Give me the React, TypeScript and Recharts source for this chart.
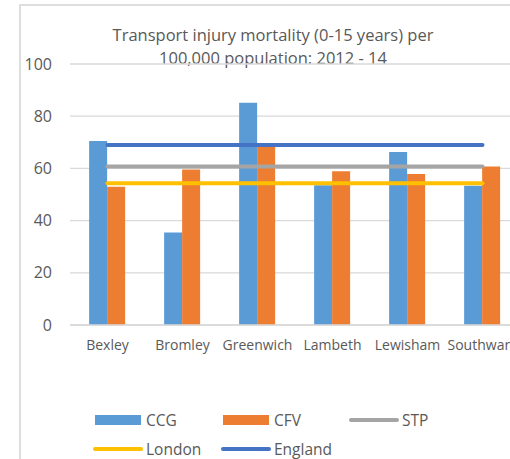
import { Bar, CartesianGrid, ComposedChart, Line, XAxis, YAxis } from "recharts";

const categories = ["Bexley", "Bromley", "Greenwich", "Lambeth", "Lewisham", "Southwark"];
const ccg = [70.5, 35.4, 85.2, 53.5, 66.3, 53.4];
const cfv = [53.0, 59.6, 68.3, 58.9, 57.9, 60.7];
const stp = [60.7, 60.7, 60.7, 60.7, 60.7, 60.7];
const london = [54.3, 54.3, 54.3, 54.3, 54.3, 54.3];
const england = [69.0, 69.0, 69.0, 69.0, 69.0, 69.0];
const yTicks = [0, 20, 40, 60, 80, 100];

const series = [
  { key: "ccg", name: "CCG", color: "#5B9BD5", kind: "bar" },
  { key: "cfv", name: "CFV", color: "#ED7D31", kind: "bar" },
  { key: "stp", name: "STP", color: "#A5A5A5", kind: "line" },
  { key: "london", name: "London", color: "#FFC000", kind: "line" },
  { key: "england", name: "England", color: "#4472C4", kind: "line" },
];

const TEXT = "#595959";
const GRID = "#D9D9D9";
const FONT = "'Open Sans', sans-serif";

const data = categories.map((name, i) => ({
  name,
  ccg: ccg[i],
  cfv: cfv[i],
  stp: stp[i],
  london: london[i],
  england: england[i],
}));

function LegendBox() {
  return (
    <div
      style={{
        position: "absolute",
        left: 93,
        top: 405,
        width: 400,
        display: "flex",
        flexWrap: "wrap",
        fontFamily: FONT,
        fontSize: 15.5,
        color: TEXT,
      }}
    >
      {series.map((s) => (
        <div key={s.key} style={{ width: 128, height: 29, display: "flex", alignItems: "center" }}>
          {s.kind === "bar" ? (
            <span style={{ width: 46, height: 10, marginLeft: 2, marginRight: 5, background: s.color }} />
          ) : (
            <span
              style={{ width: 50, height: 4, marginRight: 3, borderRadius: 2, background: s.color }}
            />
          )}
          <span>{s.name}</span>
        </div>
      ))}
    </div>
  );
}

export default function App() {
  return (
    <div
      style={{
        position: "fixed",
        left: 0,
        top: 0,
        width: 510,
        height: 459,
        overflow: "hidden",
        background: "#fff",
      }}
    >
      <div
        style={{
          position: "absolute",
          left: 19,
          top: 4,
          width: 520,
          height: 480,
          border: "2px solid #DEDEDE",
          boxSizing: "border-box",
        }}
      />
      <div
        style={{
          position: "absolute",
          left: 19,
          top: 23,
          width: 508,
          textAlign: "center",
          fontFamily: FONT,
          fontSize: 16.5,
          lineHeight: "23px",
          color: TEXT,
        }}
      >
        Transport injury mortality (0-15 years) per
        <br />
        100,000 population: 2012 - 14
      </div>
      <div style={{ position: "absolute", left: 0, top: 0 }}>
        <ComposedChart
          width={540}
          height={459}
          data={data}
          margin={{ top: 64, right: 20, bottom: 104, left: 30 }}
          barCategoryGap="25.5%"
          barGap={0}
          style={{ fontFamily: FONT }}
        >
          <CartesianGrid vertical={false} stroke={GRID} strokeWidth={1.3} />
          <XAxis
            dataKey="name"
            height={30}
            axisLine={{ stroke: GRID, strokeWidth: 1.3 }}
            tickLine={false}
            tickSize={0}
            tickMargin={15}
            interval={0}
            tick={{ fill: TEXT, fontSize: 14 }}
          />
          <YAxis
            width={40}
            domain={[0, 100]}
            ticks={yTicks}
            axisLine={false}
            tickLine={false}
            tickSize={0}
            tickMargin={18}
            tick={{ fill: TEXT, fontSize: 16 }}
          />
          <Bar dataKey="ccg" name="CCG" fill="#5B9BD5" isAnimationActive={false} />
          <Bar dataKey="cfv" name="CFV" fill="#ED7D31" isAnimationActive={false} />
          <Line
            dataKey="stp"
            name="STP"
            stroke="#A5A5A5"
            strokeWidth={4}
            strokeLinecap="round"
            dot={false}
            activeDot={false}
            isAnimationActive={false}
          />
          <Line
            dataKey="london"
            name="London"
            stroke="#FFC000"
            strokeWidth={4}
            strokeLinecap="round"
            dot={false}
            activeDot={false}
            isAnimationActive={false}
          />
          <Line
            dataKey="england"
            name="England"
            stroke="#4472C4"
            strokeWidth={4}
            strokeLinecap="round"
            dot={false}
            activeDot={false}
            isAnimationActive={false}
          />
        </ComposedChart>
      </div>
      <LegendBox />
    </div>
  );
}
